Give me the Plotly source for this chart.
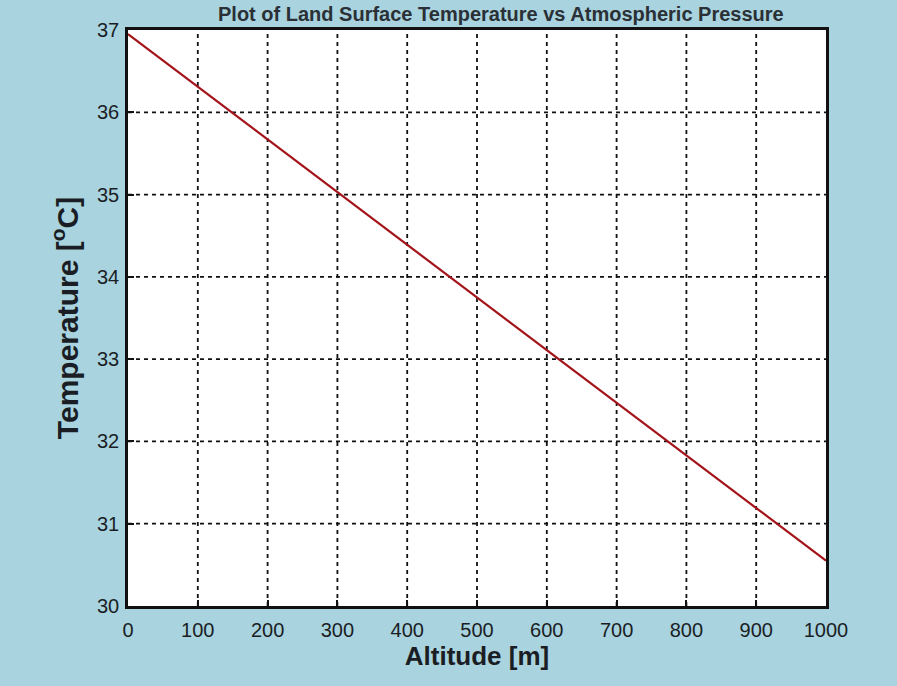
import plotly.graph_objects as go

altitude = [0, 100, 200, 300, 400, 500, 600, 700, 800, 900, 1000]
temperature = [36.95, 36.31, 35.67, 35.03, 34.39, 33.75, 33.11, 32.47, 31.83, 31.19, 30.55]

x_ticks = [0, 100, 200, 300, 400, 500, 600, 700, 800, 900, 1000]
y_ticks = [30, 31, 32, 33, 34, 35, 36, 37]

title_text = "Plot of Land Surface Temperature vs Atmospheric Pressure"

bg = "#a9d3df"
ink = "#1a1e24"

fig = go.Figure()
fig.add_trace(go.Scatter(
    x=altitude, y=temperature, mode="lines",
    line=dict(color="#a3141a", width=2.2),
    showlegend=False, hoverinfo="skip",
))

for xv in x_ticks[1:-1]:
    fig.add_shape(type="line", xref="x", yref="paper", x0=xv, x1=xv, y0=0, y1=1,
                  line=dict(color="#111", width=1.8, dash="4px,4px"), layer="below")
for yv in y_ticks[1:-1]:
    fig.add_shape(type="line", xref="paper", yref="y", x0=0, x1=1, y0=yv, y1=yv,
                  line=dict(color="#111", width=1.8, dash="4px,4px"), layer="below")

# title sitting in the thin top strip
fig.add_annotation(
    text="<b>" + title_text + "</b>", xref="paper", yref="paper",
    x=0.535, y=1, xanchor="center", yanchor="bottom", yshift=3,
    showarrow=False, font=dict(size=20, color="#2a3035"),
)

fig.update_layout(
    width=897, height=686,
    margin=dict(l=128, r=71, t=30, b=80),
    paper_bgcolor=bg,
    plot_bgcolor="white",
    font=dict(family="Liberation Sans, Arial, sans-serif", color=ink, size=18),
)
fig.update_xaxes(
    range=[0, 1000], tickvals=x_ticks, ticktext=[str(v) for v in x_ticks],
    showgrid=False, zeroline=False,
    showline=True, linecolor="#111", linewidth=2.5, mirror=True,
    ticks="inside", ticklen=6, tickcolor="#111", tickwidth=1.5,
    tickfont=dict(size=20, color=ink), ticklabelstandoff=4,
    title=dict(text="<b>Altitude [m]</b>", font=dict(size=26, color=ink), standoff=5),
)
fig.update_yaxes(
    range=[30, 37], tickvals=y_ticks, ticktext=[str(v) for v in y_ticks],
    showgrid=False, zeroline=False,
    showline=True, linecolor="#111", linewidth=2.5, mirror=True,
    ticks="inside", ticklen=6, tickcolor="#111", tickwidth=1.5,
    tickfont=dict(size=20, color=ink), ticklabelstandoff=2,
    title=dict(text="<b>Temperature [<sup>o</sup>C]</b>", font=dict(size=30, color=ink), standoff=10),
)

fig.write_html("out.html")
